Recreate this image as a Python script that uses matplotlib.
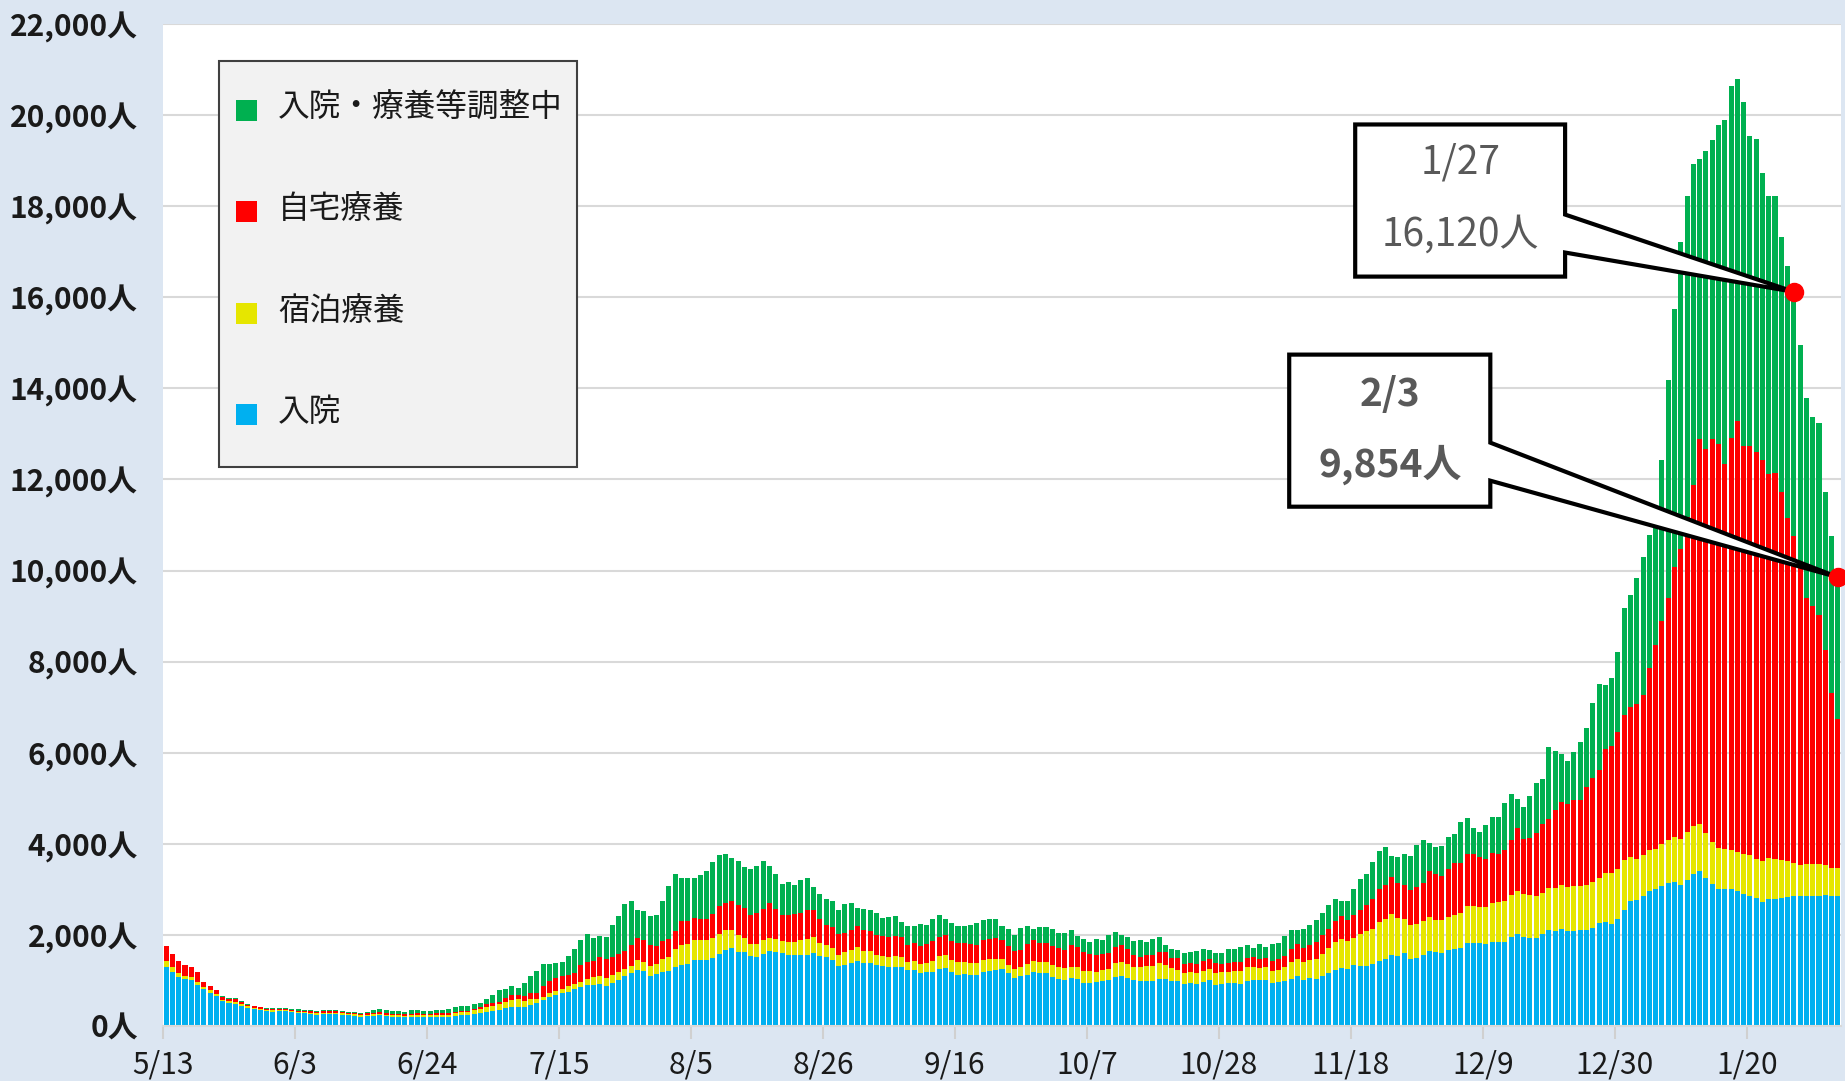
import numpy as np
import matplotlib
matplotlib.use("Agg")
import matplotlib.pyplot as plt
from matplotlib.patches import Polygon, Rectangle

plt.rcParams['font.family'] = ['Noto Sans CJK JP', 'DejaVu Sans']

# x axis labels (every 21 days, starting 5/13)
tick_labels = ['5/13', '6/3', '6/24', '7/15', '8/5', '8/26', '9/16',
               '10/7', '10/28', '11/18', '12/9', '12/30', '1/20']
series_names = ['入院・療養等調整中', '自宅療養', '宿泊療養', '入院']

# daily values 5/13 .. 2/3 (267 days)
hosp = [1300, 1190, 1066, 1022, 1007, 911, 816, 735, 669, 544,
        507, 492, 448, 404, 375, 360, 323, 316, 323, 323,
        301, 287, 279, 265, 250, 257, 265, 265, 250, 243,
        228, 206, 221, 228, 235, 213, 206, 206, 191, 199,
        206, 206, 206, 206, 206, 206, 228, 243, 243, 272,
        279, 301, 331, 353, 404, 412, 426, 426, 470, 514,
        566, 647, 676, 720, 750, 823, 867, 911, 911, 933,
        889, 948, 1014, 1088, 1154, 1235, 1198, 1088, 1132, 1176,
        1205, 1294, 1338, 1367, 1455, 1455, 1455, 1492, 1587, 1676,
        1705, 1632, 1632, 1543, 1521, 1587, 1654, 1632, 1595, 1558,
        1551, 1558, 1565, 1610, 1543, 1507, 1455, 1308, 1330, 1389,
        1433, 1389, 1374, 1330, 1308, 1286, 1301, 1286, 1220, 1235,
        1169, 1176, 1191, 1249, 1272, 1183, 1125, 1139, 1125, 1125,
        1191, 1213, 1220, 1242, 1154, 1058, 1095, 1125, 1183, 1154,
        1154, 1080, 1029, 1014, 1051, 1036, 955, 955, 963, 992,
        1000, 1066, 1103, 1058, 1000, 978, 992, 985, 1036, 1036,
        978, 978, 926, 941, 933, 970, 1012, 909, 931, 946,
        946, 931, 997, 1019, 1012, 1019, 953, 960, 982, 1041,
        1100, 1012, 1063, 1034, 1107, 1165, 1239, 1283, 1261, 1334,
        1327, 1327, 1363, 1437, 1466, 1569, 1547, 1613, 1481, 1495,
        1569, 1649, 1623, 1604, 1662, 1690, 1710, 1826, 1826, 1826,
        1797, 1855, 1845, 1845, 1951, 2019, 1961, 1942, 1932, 2029,
        2106, 2087, 2125, 2077, 2087, 2106, 2116, 2154, 2260, 2283,
        2243, 2358, 2544, 2744, 2758, 2858, 2972, 3001, 3072, 3144,
        3172, 3101, 3215, 3344, 3401, 3258, 3115, 3001, 3001, 3001,
        2972, 2901, 2858, 2801, 2729, 2786, 2786, 2801, 2829, 2844,
        2844, 2858, 2844, 2858, 2872, 2844, 2844]

hotel = [125, 103, 96, 81, 66, 66, 51, 51, 37, 35,
         33, 35, 30, 25, 22, 20, 25, 28, 28, 25,
         28, 28, 25, 30, 28, 32, 30, 30, 28, 22,
         25, 28, 30, 35, 38, 38, 36, 35, 35, 38,
         38, 35, 35, 38, 40, 45, 50, 55, 55, 70,
         90, 125, 118, 132, 132, 162, 162, 132, 125, 88,
         66, 74, 88, 103, 118, 110, 110, 118, 154, 154,
         169, 162, 169, 162, 169, 220, 206, 220, 228, 294,
         309, 404, 441, 441, 426, 426, 426, 434, 441, 441,
         412, 375, 309, 265, 279, 294, 287, 279, 279, 287,
         301, 323, 353, 353, 287, 272, 250, 257, 287, 272,
         301, 265, 265, 235, 235, 220, 228, 228, 176, 184,
         184, 213, 243, 279, 279, 272, 279, 257, 250, 250,
         250, 265, 243, 220, 176, 184, 191, 235, 250, 250,
         250, 250, 265, 250, 250, 265, 250, 250, 213, 243,
         243, 309, 309, 301, 287, 309, 331, 338, 338, 309,
         287, 257, 243, 235, 228, 245, 249, 264, 264, 249,
         264, 279, 308, 286, 271, 271, 264, 271, 308, 374,
         374, 396, 381, 440, 484, 550, 616, 630, 608, 608,
         696, 762, 777, 850, 887, 894, 814, 740, 740, 740,
         740, 734, 705, 715, 734, 744, 763, 802, 811, 782,
         811, 840, 879, 908, 927, 937, 937, 937, 927, 898,
         927, 937, 976, 985, 976, 966, 985, 1014, 990, 1080,
         1115, 1100, 1100, 972, 915, 900, 886, 886, 929, 929,
         972, 1000, 1043, 1043, 1029, 986, 915, 915, 886, 857,
         843, 886, 900, 857, 886, 900, 871, 843, 786, 743,
         700, 700, 714, 700, 657, 629, 629]

home = [323, 280, 257, 235, 220, 206, 103, 88, 81, 65,
        60, 65, 55, 40, 35, 30, 22, 25, 25, 22,
        25, 24, 22, 28, 25, 30, 28, 28, 25, 20,
        22, 25, 25, 30, 32, 32, 30, 30, 30, 33,
        31, 27, 30, 31, 34, 36, 40, 40, 38, 40,
        45, 51, 51, 51, 88, 96, 96, 103, 132, 125,
        257, 257, 279, 265, 250, 228, 353, 375, 353, 419,
        419, 404, 397, 404, 463, 485, 492, 478, 390, 404,
        397, 382, 522, 507, 500, 478, 478, 537, 603, 588,
        625, 647, 647, 640, 676, 691, 757, 662, 573, 588,
        610, 595, 625, 573, 522, 441, 463, 448, 426, 456,
        470, 463, 441, 434, 434, 441, 441, 441, 390, 404,
        397, 419, 426, 426, 448, 404, 419, 419, 426, 404,
        441, 441, 470, 434, 419, 404, 390, 434, 448, 426,
        426, 419, 412, 412, 470, 434, 412, 368, 375, 338,
        353, 360, 375, 323, 279, 235, 228, 228, 257, 272,
        220, 250, 198, 198, 191, 205, 213, 205, 176, 183,
        205, 205, 198, 220, 183, 213, 220, 242, 249, 271,
        337, 315, 345, 374, 403, 425, 440, 506, 469, 491,
        528, 572, 645, 711, 748, 806, 770, 733, 755, 821,
        828, 1014, 1005, 976, 1043, 1150, 1101, 1150, 1130, 1101,
        1063, 1101, 1063, 1111, 1207, 1401, 1198, 1256, 1372, 1507,
        1507, 1710, 1816, 1816, 1893, 1884, 2145, 2270, 2380, 2710,
        2786, 3000, 3186, 3287, 3401, 3501, 4001, 4473, 4901, 5330,
        5930, 6373, 6916, 7502, 8460, 8417, 8860, 8860, 8460, 9060,
        9474, 8946, 8974, 8946, 8803, 8431, 8488, 8074, 7531, 7173,
        6645, 5845, 5659, 5459, 4716, 3844, 3272]

adjusting = [0, 0, 0, 0, 0, 0, 0, 0, 0, 17,
             17, 18, 18, 16, 16, 16, 27, 28, 28, 27,
             28, 28, 27, 30, 28, 34, 30, 30, 28, 24,
             26, 28, 33, 60, 70, 70, 66, 60, 60, 75,
             70, 55, 60, 70, 80, 95, 108, 103, 98, 96,
             100, 125, 191, 257, 198, 198, 154, 294, 360, 485,
             478, 390, 338, 316, 419, 529, 566, 617, 507, 463,
             470, 713, 845, 1022, 963, 610, 625, 625, 698, 867,
             1161, 1257, 955, 926, 875, 948, 1051, 1132, 1132, 1066,
             948, 963, 911, 1007, 1044, 1044, 823, 764, 662, 720,
             640, 735, 713, 507, 537, 573, 566, 537, 639, 573,
             390, 441, 456, 478, 390, 456, 456, 338, 404, 367,
             492, 412, 500, 478, 345, 412, 382, 375, 426, 485,
             456, 441, 412, 309, 375, 360, 478, 412, 257, 345,
             345, 375, 338, 375, 331, 243, 301, 279, 360, 323,
             397, 338, 220, 279, 294, 367, 301, 367, 316, 169,
             213, 184, 243, 257, 294, 270, 198, 227, 235, 308,
             279, 323, 279, 191, 337, 227, 367, 345, 440, 425,
             301, 396, 432, 484, 484, 506, 491, 315, 396, 579,
             674, 682, 821, 843, 836, 469, 572, 689, 755, 924,
             953, 628, 589, 667, 715, 638, 898, 792, 570, 551,
             734, 802, 811, 1034, 1014, 638, 715, 918, 1101, 985,
             1575, 1314, 1053, 947, 1053, 1285, 1294, 1662, 1870, 1420,
             1500, 1758, 2344, 2458, 2758, 3030, 2930, 2601, 3530, 4773,
             5673, 6745, 7045, 7045, 6145, 6559, 6573, 7016, 7545, 7730,
             7502, 7559, 6802, 6873, 6302, 6116, 6088, 5602, 5545, 5360,
             4773, 4387, 4158, 4230, 3472, 3444, 3109]

colors = {'adj': '#00B050', 'home': '#FF0000', 'hotel': '#E6E600', 'hosp': '#00B0F0'}

hosp = np.array(hosp)
hotel = np.array(hotel)
home = np.array(home)
adjusting = np.array(adjusting)
n = len(hosp)
x = np.arange(n)
total = hosp + hotel + home + adjusting

W, H = 1845, 1081
fig = plt.figure(figsize=(W / 100, H / 100), dpi=100, facecolor='#DCE6F2')
ax = fig.add_axes([163 / W, 1 - 1026 / H, (1841 - 163) / W, (1026 - 24) / H])
ax.set_facecolor('white')

ax.bar(x, hosp, width=0.8, color=colors['hosp'], zorder=2)
ax.bar(x, hotel, width=0.8, bottom=hosp, color=colors['hotel'], zorder=2)
ax.bar(x, home, width=0.8, bottom=hosp + hotel, color=colors['home'], zorder=2)
ax.bar(x, adjusting, width=0.8, bottom=hosp + hotel + home, color=colors['adj'], zorder=2)

ax.set_xlim(-0.5, n - 0.5)
ax.set_ylim(0, 22000)

yt = np.arange(0, 22001, 2000)
ax.set_yticks(yt)
ax.set_yticklabels([f'{v:,}人' for v in yt], fontsize=21.5, fontweight='bold', color='#1a1a1a')
ax.tick_params(axis='y', length=0, pad=18)
ax.yaxis.grid(True, color='#D9D9D9', lw=1.5, zorder=0)
ax.set_axisbelow(True)

ax.set_xticks(np.arange(0, n, 21)[:len(tick_labels)] - 0.5)
ax.set_xticklabels(tick_labels, fontsize=21.5, color='#1a1a1a')
ax.tick_params(axis='x', length=9, width=1.5, color='#D0D0D0', pad=8)

for s in ['top', 'right', 'left']:
    ax.spines[s].set_visible(False)
ax.spines['bottom'].set_color('#D9D9D9')
ax.spines['bottom'].set_linewidth(1.5)

# legend box drawn in figure pixel coordinates
def fx(px):
    return px / W

def fy(py):
    return 1 - py / H

fig.patches.append(Rectangle((fx(219), fy(467)), fx(577) - fx(219), fy(61) - fy(467),
                             transform=fig.transFigure, facecolor='#F2F2F2',
                             edgecolor='#404040', lw=1.5, zorder=5))
leg_cols = [colors['adj'], colors['home'], colors['hotel'], colors['hosp']]
leg_y = [110, 211, 313, 414]
for name, c, yy in zip(series_names, leg_cols, leg_y):
    fig.patches.append(Rectangle((fx(236), fy(yy + 11)), fx(21), 21 / H,
                                 transform=fig.transFigure, facecolor=c,
                                 edgecolor='none', zorder=6))
    fig.text(fx(278), fy(yy - 2), name, fontsize=22.8, va='center', ha='left',
             color='#1a1a1a', zorder=7)

# callouts
def callout(ix, left, right, top, bottom, a1, a2, lines, bold, ys):
    tip = (ix, total[ix])
    pts = [(left, top), (right, top), (right, a1), tip, (right, a2),
           (right, bottom), (left, bottom)]
    ax.add_patch(Polygon(pts, closed=True, facecolor='white', edgecolor='black',
                         lw=3, zorder=8, clip_on=False, joinstyle='miter'))
    cx = (left + right) / 2
    for t, yy in zip(lines, ys):
        ax.text(cx, yy, t, ha='center', va='center', fontsize=28, color='#595959',
                fontweight='bold' if bold else 'normal', zorder=9)
    ax.plot(tip[0], tip[1], 'o', color='#FF0000', markersize=13, zorder=10, clip_on=False)

i1 = 259
callout(i1, 189.2, 222.6, 19794, 16454, 17816, 16982,
        ['1/27', f'{total[i1]:,}人'], False, [18959, 17377])
i2 = n - 1
callout(i2, 178.7, 210.7, 14741, 11402, 12808, 11973,
        ['2/3', f'{total[i2]:,}人'], True, [13862, 12324])

fig.savefig('out.png', dpi=100, facecolor=fig.get_facecolor())
